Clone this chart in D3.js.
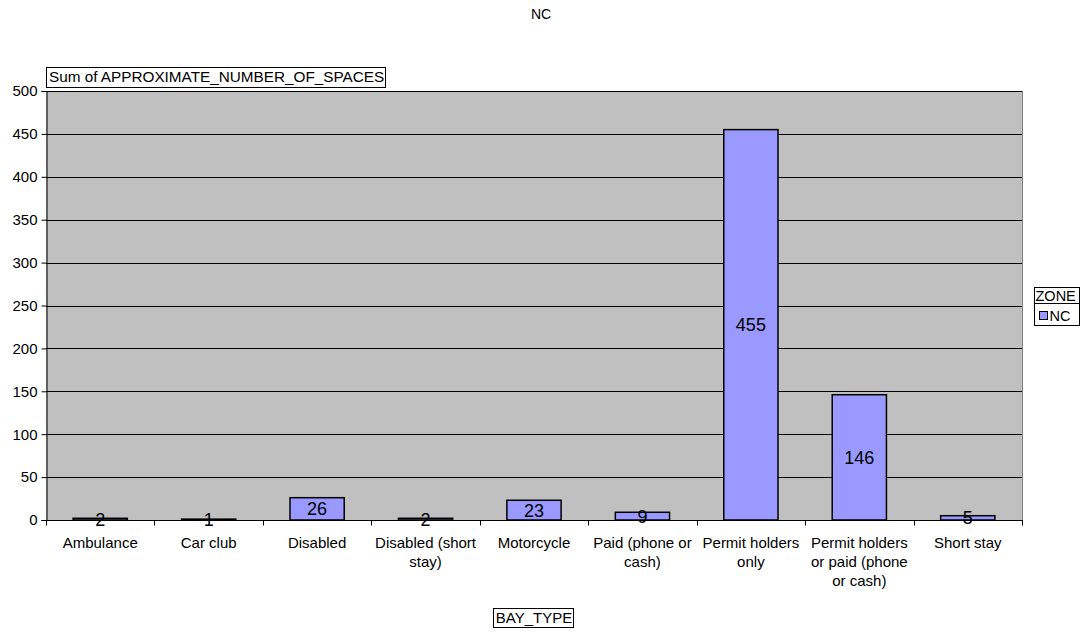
<!DOCTYPE html>
<html>
<head>
<meta charset="utf-8">
<script src="https://cdn.jsdelivr.net/npm/d3@7"></script>
<style>
  html, body { margin: 0; padding: 0; background: #fff; }
  svg { display: block; font-family: "Liberation Sans", Arial, sans-serif; }
</style>
</head>
<body>
<svg id="chart" width="1088" height="633"></svg>
<script>
// Parking bay counts for zone NC, summed by bay type
const categories = [
  "Ambulance", "Car club", "Disabled", "Disabled (short stay)", "Motorcycle",
  "Paid (phone or cash)", "Permit holders only",
  "Permit holders or paid (phone or cash)", "Short stay"
];
const spaces = [2, 1, 26, 2, 23, 9, 455, 146, 5];
const yTicks = [0, 50, 100, 150, 200, 250, 300, 350, 400, 450, 500];
const chartTitle = "NC";
const yTitle = "Sum of APPROXIMATE_NUMBER_OF_SPACES";
const xTitle = "BAY_TYPE";
const legendTitle = "ZONE";
const seriesName = "NC";

const svg = d3.select("#chart");
const plot = { left: 46, right: 1022, top: 91, bottom: 520 };

const x = d3.scaleBand()
  .domain(categories)
  .range([plot.left, plot.right])
  .paddingInner(0.5)
  .paddingOuter(0.25);

const y = d3.scaleLinear().domain([0, 500]).range([plot.bottom, plot.top]);

// plot background
svg.append("rect")
  .attr("x", plot.left).attr("y", plot.top)
  .attr("width", plot.right - plot.left).attr("height", plot.bottom - plot.top)
  .attr("fill", "#c0c0c0");

// right border of plot area
svg.append("line")
  .attr("x1", plot.right + 0.5).attr("x2", plot.right + 0.5)
  .attr("y1", plot.top).attr("y2", plot.bottom)
  .attr("stroke", "#808080").attr("stroke-width", 1);

// horizontal gridlines
svg.append("g").selectAll("line")
  .data(yTicks.filter(d => d > 0))
  .join("line")
  .attr("x1", plot.left).attr("x2", plot.right)
  .attr("y1", d => Math.round(y(d)) + 0.5).attr("y2", d => Math.round(y(d)) + 0.5)
  .attr("stroke", "#000").attr("stroke-width", 1);

// bars
svg.append("g").selectAll("rect")
  .data(spaces)
  .join("rect")
  .attr("x", (d, i) => x(categories[i]))
  .attr("width", x.bandwidth())
  .attr("y", d => y(d))
  .attr("height", d => y(0) - y(d))
  .attr("fill", "#9999ff")
  .attr("stroke", "#000")
  .attr("stroke-width", 1.5);

// value labels centred inside each bar
svg.append("g").selectAll("text")
  .data(spaces)
  .join("text")
  .attr("x", (d, i) => x(categories[i]) + x.bandwidth() / 2)
  .attr("y", d => (y(d) + y(0)) / 2)
  .attr("dy", "0.36em")
  .attr("text-anchor", "middle")
  .attr("font-size", "18px")
  .attr("fill", "#000")
  .text(d => d);

// y axis
const yAxis = svg.append("g")
  .attr("transform", `translate(${plot.left + 0.5},0)`)
  .call(d3.axisLeft(y).tickValues(yTicks).tickSize(5).tickPadding(4).tickFormat(d3.format("d")));
yAxis.select(".domain").attr("stroke", "#000");
yAxis.selectAll(".tick line").attr("stroke", "#000");
yAxis.selectAll("text").attr("font-size", "15px").attr("fill", "#000")
  .attr("font-family", "'Liberation Sans', Arial, sans-serif");

// x axis with ticks on category boundaries
const xAxisG = svg.append("g").attr("transform", `translate(0,${plot.bottom + 0.5})`);
xAxisG.append("line")
  .attr("x1", plot.left).attr("x2", plot.right + 1)
  .attr("stroke", "#000").attr("stroke-width", 1);
const boundaries = d3.range(categories.length + 1).map(i => plot.left + i * (plot.right - plot.left) / categories.length);
xAxisG.selectAll("line.tk")
  .data(boundaries)
  .join("line")
  .attr("class", "tk")
  .attr("x1", d => Math.round(d) + 0.5).attr("x2", d => Math.round(d) + 0.5)
  .attr("y1", 0).attr("y2", 5)
  .attr("stroke", "#000");

// category labels, wrapped to the band width
const labelG = xAxisG.selectAll("text.cat")
  .data(categories)
  .join("text")
  .attr("class", "cat")
  .attr("x", d => x(d) + x.bandwidth() / 2)
  .attr("y", 27)
  .attr("text-anchor", "middle")
  .attr("font-size", "15px")
  .attr("fill", "#000");

labelG.each(function(d) {
  const t = d3.select(this);
  const cx = +t.attr("x");
  const words = d.split(" ");
  const maxW = 106;
  let line = [];
  let tspan = t.append("tspan").attr("x", cx).attr("dy", 0);
  for (const w of words) {
    line.push(w);
    tspan.text(line.join(" "));
    if (tspan.node().getComputedTextLength() > maxW && line.length > 1) {
      line.pop();
      tspan.text(line.join(" "));
      line = [w];
      tspan = t.append("tspan").attr("x", cx).attr("dy", "19px").text(w);
    }
  }
});

// chart title
svg.append("text")
  .attr("x", 541).attr("y", 19)
  .attr("text-anchor", "middle")
  .attr("font-size", "14px")
  .attr("fill", "#000")
  .text(chartTitle);

// boxed text helper
function boxedText(px, py, txt, size, anchor, boxTop, boxH) {
  const g = svg.append("g");
  const t = g.append("text")
    .attr("x", px).attr("y", py)
    .attr("text-anchor", anchor)
    .attr("font-size", size)
    .attr("fill", "#000")
    .text(txt);
  const b = t.node().getBBox();
  g.insert("rect", "text")
    .attr("x", Math.round(b.x) - 2.5).attr("y", boxTop + 0.5)
    .attr("width", Math.round(b.width) + 4).attr("height", boxH)
    .attr("fill", "#fff").attr("stroke", "#000").attr("stroke-width", 1);
  return g;
}

boxedText(49, 82, yTitle, "15.3px", "start", 67, 20);
boxedText(534, 623, xTitle, "15px", "middle", 608, 19);

// legend
const lg = svg.append("g").attr("transform", "translate(1034.5,287.5)");
lg.append("rect").attr("width", 45).attr("height", 38)
  .attr("fill", "#fff").attr("stroke", "#000");
lg.append("line").attr("x1", 0).attr("x2", 45).attr("y1", 16).attr("y2", 16).attr("stroke", "#000");
lg.append("text").attr("x", 1).attr("y", 13).attr("font-size", "14.5px").attr("fill", "#000").text(legendTitle);
lg.append("rect").attr("x", 5).attr("y", 24).attr("width", 8).attr("height", 8)
  .attr("fill", "#9999ff").attr("stroke", "#000");
lg.append("text").attr("x", 15).attr("y", 33).attr("font-size", "14.5px").attr("fill", "#000").text(seriesName);
</script>
</body>
</html>
